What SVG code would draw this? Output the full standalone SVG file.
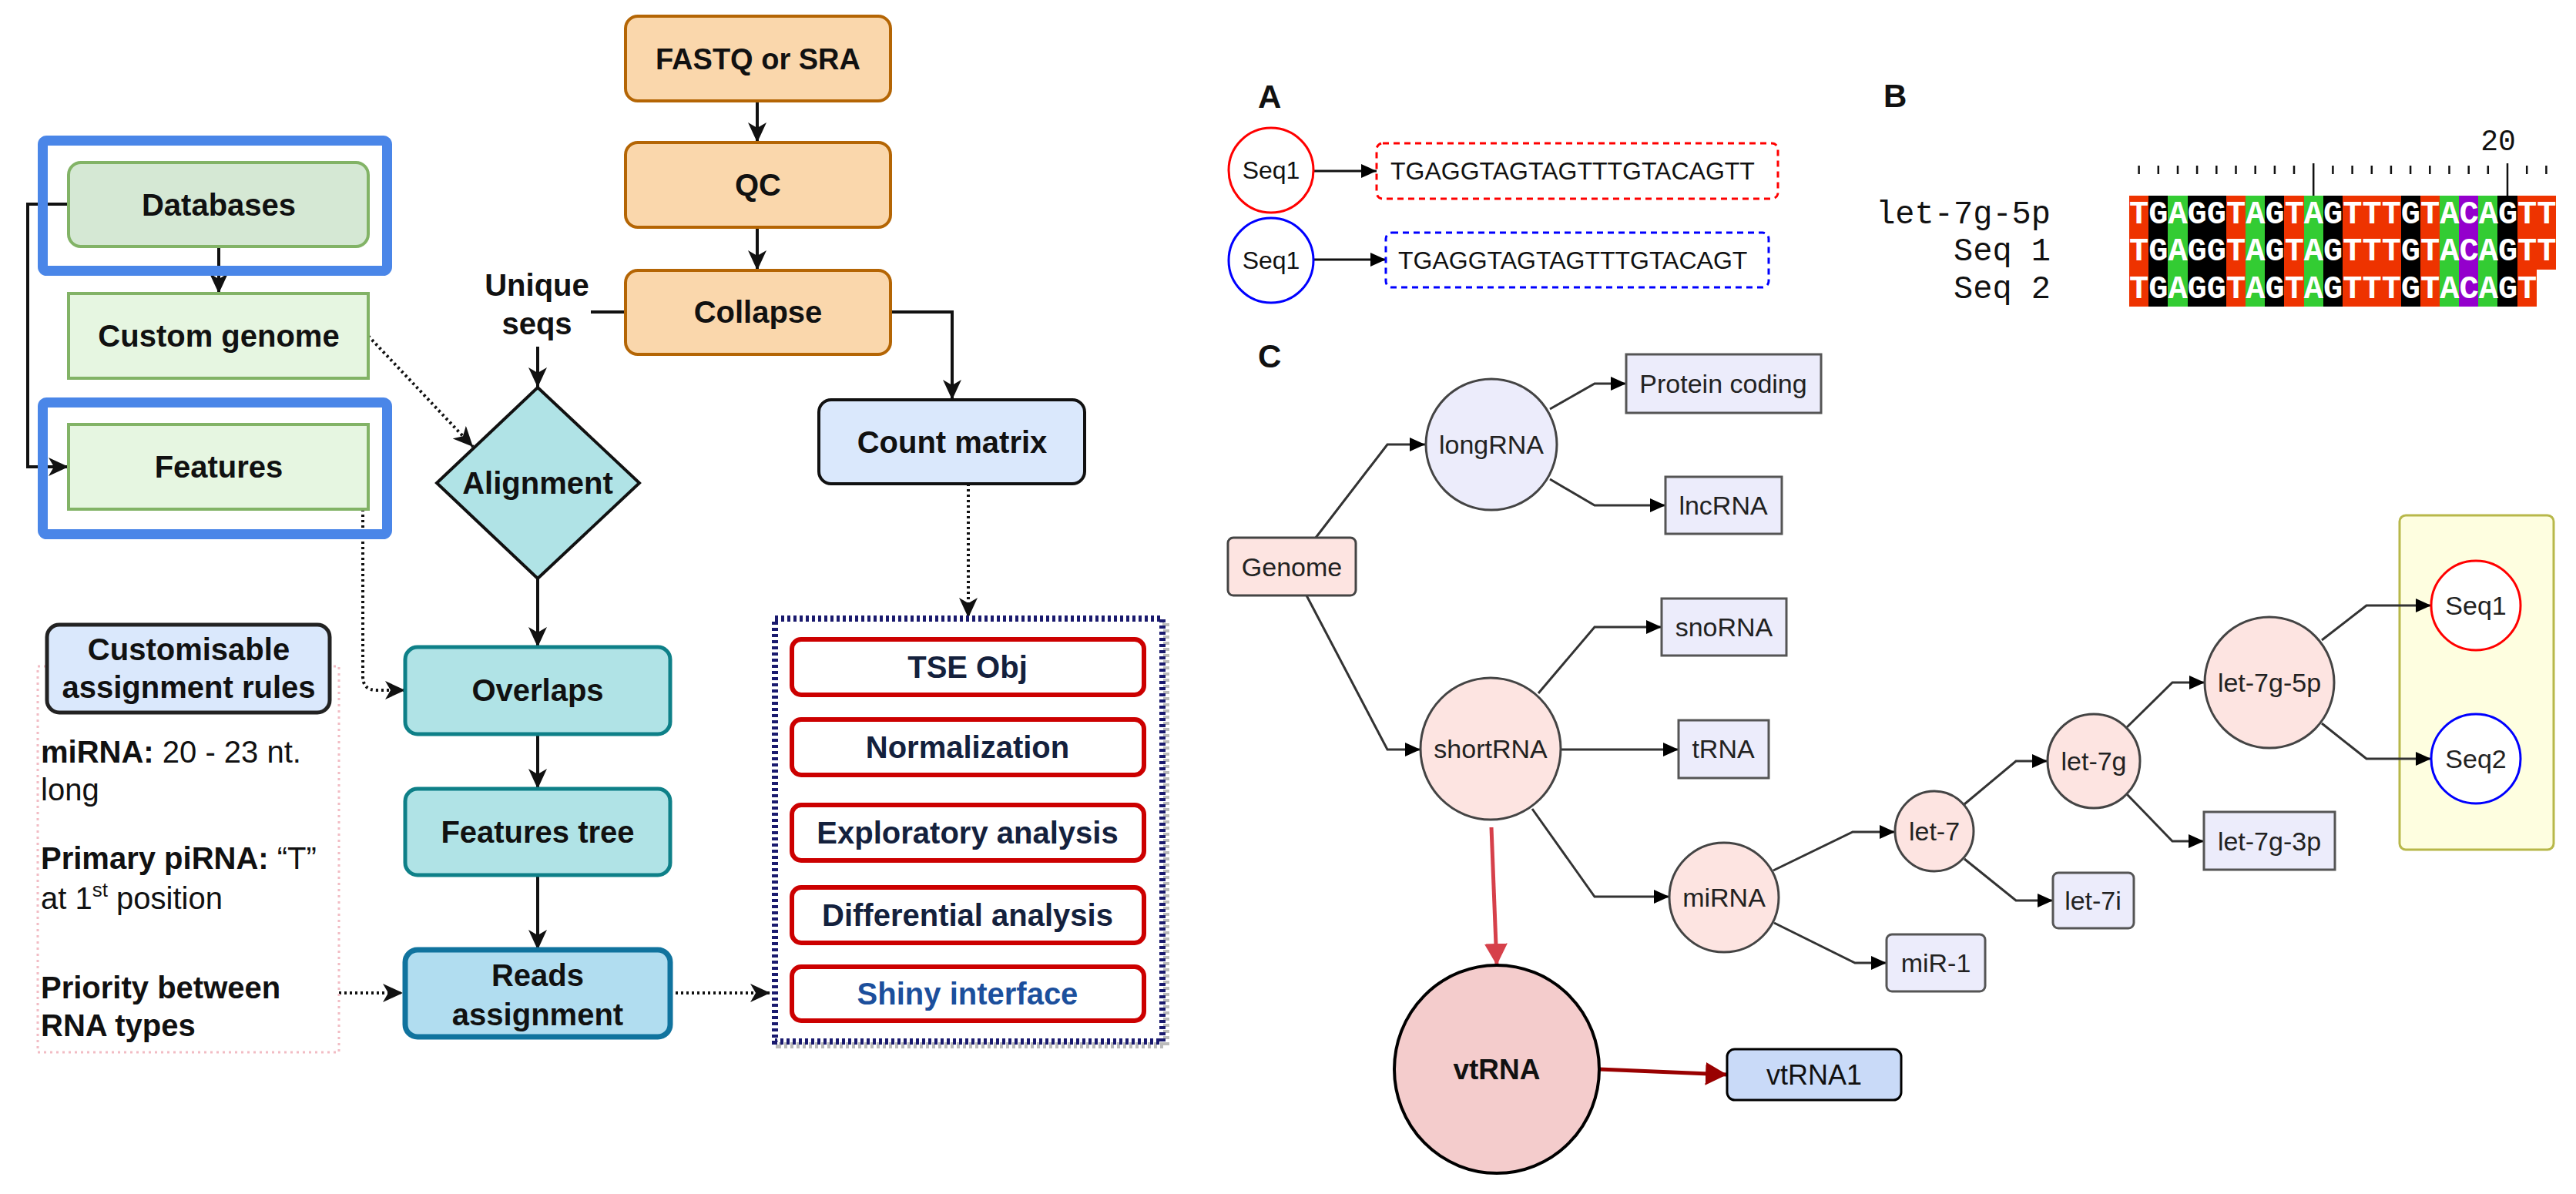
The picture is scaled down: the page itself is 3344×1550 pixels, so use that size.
<svg xmlns="http://www.w3.org/2000/svg" width="3344" height="1550" viewBox="0 0 3344 1550">
<defs>
<style>
text{font-family:"Liberation Sans",Arial,Helvetica,sans-serif;fill:#111}
.b{font-weight:bold}
.c{text-anchor:middle}
.f40{font-size:40px}
.f34{font-size:34px}
.f32{font-size:32px}
.mono{font-family:"Liberation Mono","Courier New",monospace}
.orange{fill:#fad7ac;stroke:#b46504;stroke-width:4}
.dbg{fill:#d5e8d4;stroke:#82b366;stroke-width:4}
.lg{fill:#e6f6e1;stroke:#82b366;stroke-width:4}
.teal{fill:#b0e3e6;stroke:#0e8088;stroke-width:5}
.hl{fill:none;stroke:#4a86e8;stroke-width:13}
.inner{fill:#fff;stroke:#cc0000;stroke-width:6}
.it{fill:#14213d;font-weight:bold;font-size:40px;text-anchor:middle}
.ln{fill:none;stroke:#111;stroke-width:4}
.dot{fill:none;stroke:#111;stroke-width:4;stroke-dasharray:3 4}
.tl{fill:none;stroke:#333;stroke-width:3}
.lav{fill:#ececfb;stroke:#555;stroke-width:3}
.pink{fill:#fde4e1;stroke:#444;stroke-width:3}
.tt{font-size:34px;text-anchor:middle;fill:#222}
.tick{stroke:#111;stroke-width:2.5}
.al{fill:#fff;font-size:42px;font-weight:bold}
</style>
<marker id="ah" markerUnits="userSpaceOnUse" markerWidth="26" markerHeight="24" refX="26" refY="12" orient="auto">
<path d="M0,0 L26,12 L0,24 L7,12 Z" fill="#111"/>
</marker>
<marker id="at" markerUnits="userSpaceOnUse" markerWidth="20" markerHeight="18" refX="20" refY="9" orient="auto">
<path d="M0,0 L20,9 L0,18 Z" fill="#000"/>
</marker>
<marker id="ar" markerUnits="userSpaceOnUse" markerWidth="28" markerHeight="30" refX="28" refY="15" orient="auto">
<path d="M0,0 L28,15 L0,30 Z" fill="#d6404a"/>
</marker>
<marker id="adr" markerUnits="userSpaceOnUse" markerWidth="28" markerHeight="30" refX="28" refY="15" orient="auto">
<path d="M0,0 L28,15 L0,30 Z" fill="#990000"/>
</marker>
</defs>
<rect width="3344" height="1550" fill="#fff"/>

<!-- ================= LEFT PANEL ================= -->
<g id="connectors-left">
<path class="ln" d="M983,131 V185" marker-end="url(#ah)"/>
<path class="ln" d="M983,295 V351" marker-end="url(#ah)"/>
<path class="ln" d="M812,405 H698 V503" marker-end="url(#ah)"/>
<path class="ln" d="M1156,405 H1236 V519" marker-end="url(#ah)"/>
<path class="dot" d="M1257,628 V802" marker-end="url(#ah)"/>
<path class="ln" d="M284,320 V381" marker-end="url(#ah)"/>
<path class="ln" d="M89,265 H36 V606 H89" marker-end="url(#ah)"/>
<path class="dot" d="M478,436 L614,580" marker-end="url(#ah)"/>
<path class="dot" d="M471,661 V878 Q471,896 489,896 H526" marker-end="url(#ah)"/>
<path class="ln" d="M698,751 V840" marker-end="url(#ah)"/>
<path class="ln" d="M698,953 V1024" marker-end="url(#ah)"/>
<path class="ln" d="M698,1136 V1233" marker-end="url(#ah)"/>
<path class="dot" d="M440,1289 H523" marker-end="url(#ah)"/>
<path class="dot" d="M870,1289 H1000" marker-end="url(#ah)"/>
</g>

<g id="label-unique-seqs">
<rect x="624" y="352" width="143" height="98" fill="#fff"/>
<text class="b c f40" x="697" y="384">Unique</text>
<text class="b c f40" x="697" y="434">seqs</text>
</g>

<g id="node-fastq">
<rect class="orange" x="812" y="21" width="344" height="110" rx="16"/>
<text class="b c" style="font-size:38px" x="984" y="90">FASTQ or SRA</text>
</g>
<g id="node-qc">
<rect class="orange" x="812" y="185" width="344" height="110" rx="16"/>
<text class="b c f40" x="984" y="254">QC</text>
</g>
<g id="node-collapse">
<rect class="orange" x="812" y="351" width="344" height="109" rx="16"/>
<text class="b c f40" x="984" y="419">Collapse</text>
</g>

<g id="node-databases">
<rect class="dbg" x="89" y="211" width="389" height="109" rx="16"/>
<text class="b c f40" x="284" y="280">Databases</text>
</g>
<g id="node-custom-genome">
<rect class="lg" x="89" y="381" width="389" height="110"/>
<text class="b c f40" x="284" y="450">Custom genome</text>
</g>
<g id="node-features">
<rect class="lg" x="89" y="551" width="389" height="110"/>
<text class="b c f40" x="284" y="620">Features</text>
</g>

<g id="highlights">
<rect class="hl" x="55.5" y="182.5" width="447" height="169" rx="5"/>
<rect class="hl" x="55.5" y="522.5" width="447" height="171" rx="5"/>
</g>

<g id="node-alignment">
<path d="M698,503 L830,627 L698,751 L567,627 Z" fill="#b0e3e6" stroke="#111" stroke-width="4"/>
<text class="b c f40" x="698" y="641">Alignment</text>
</g>

<g id="node-overlaps">
<rect class="teal" x="526" y="840" width="344" height="113" rx="16"/>
<text class="b c f40" x="698" y="910">Overlaps</text>
</g>
<g id="node-features-tree">
<rect class="teal" x="526" y="1024" width="344" height="112" rx="16"/>
<text class="b c f40" x="698" y="1094">Features tree</text>
</g>
<g id="node-reads-assignment">
<rect x="526" y="1233" width="344" height="113" rx="16" fill="#b1ddf0" stroke="#10739e" stroke-width="7"/>
<text class="b c f40" x="698" y="1280">Reads</text>
<text class="b c f40" x="698" y="1331">assignment</text>
</g>

<g id="node-rules">
<rect x="49" y="865" width="391" height="501" fill="none" stroke="#f2bcc4" stroke-width="3" stroke-dasharray="3 5"/>
<rect x="61" y="811" width="367" height="114" rx="16" fill="#dae8fc" stroke="#222" stroke-width="5"/>
<text class="b c f40" x="245" y="857">Customisable</text>
<text class="b c f40" x="245" y="906">assignment rules</text>
<text class="f40" x="53" y="990"><tspan class="b">miRNA:</tspan> 20 - 23 nt.</text>
<text class="f40" x="53" y="1039">long</text>
<text class="f40" x="53" y="1128"><tspan class="b">Primary piRNA:</tspan> “T”</text>
<text class="f40" x="53" y="1180">at 1<tspan dy="-16" style="font-size:26px">st</tspan><tspan dy="16"> position</tspan></text>
<text class="b f40" x="53" y="1296">Priority between</text>
<text class="b f40" x="53" y="1345">RNA types</text>
</g>

<g id="node-count-matrix">
<rect x="1063" y="519" width="345" height="109" rx="16" fill="#dae8fc" stroke="#111" stroke-width="4"/>
<text class="b c f40" x="1236" y="588">Count matrix</text>
</g>

<g id="node-analysis">
<rect x="1011" y="808" width="503" height="549" fill="none" stroke="#bbb" stroke-width="8" stroke-dasharray="4 4"/>
<rect x="1006" y="803" width="503" height="549" fill="#fff" stroke="#1a1a6e" stroke-width="8" stroke-dasharray="4 4"/>
<rect class="inner" x="1028" y="830" width="457" height="72" rx="12"/>
<text class="it" x="1256" y="880">TSE Obj</text>
<rect class="inner" x="1028" y="934" width="457" height="72" rx="12"/>
<text class="it" x="1256" y="984">Normalization</text>
<rect class="inner" x="1028" y="1045" width="457" height="72" rx="12"/>
<text class="it" x="1256" y="1095">Exploratory analysis</text>
<rect class="inner" x="1028" y="1152" width="457" height="72" rx="12"/>
<text class="it" x="1256" y="1202">Differential analysis</text>
<rect class="inner" x="1028" y="1255" width="457" height="70" rx="12"/>
<text class="it" style="fill:#1c4f9c" x="1256" y="1304">Shiny interface</text>
</g>

<!-- ================= PANEL A ================= -->
<g id="panel-labels">
<text class="b" style="font-size:42px" x="1633" y="140">A</text>
<text class="b" style="font-size:42px" x="2445" y="139">B</text>
<text class="b" style="font-size:42px" x="1633" y="477">C</text>
</g>

<g id="connectors-a">
<path class="tl" style="stroke:#111" d="M1705,222 H1787" marker-end="url(#at)"/>
<path class="tl" style="stroke:#111" d="M1705,337 H1799" marker-end="url(#at)"/>
</g>
<g id="a-seq1-red">
<circle cx="1650" cy="221" r="55" fill="#fff" stroke="#ff0000" stroke-width="3"/>
<text class="c f32" x="1650" y="232">Seq1</text>
</g>
<g id="a-seq1-red-seq">
<rect x="1787" y="186" width="521" height="72" rx="8" fill="#fff" stroke="#ff0000" stroke-width="3" stroke-dasharray="8 6"/>
<text class="f32" x="1805" y="233">TGAGGTAGTAGTTTGTACAGTT</text>
</g>
<g id="a-seq1-blue">
<circle cx="1650" cy="338" r="55" fill="#fff" stroke="#0000ff" stroke-width="3"/>
<text class="c f32" x="1650" y="349">Seq1</text>
</g>
<g id="a-seq1-blue-seq">
<rect x="1799" y="302" width="497" height="71" rx="8" fill="#fff" stroke="#0000ff" stroke-width="3" stroke-dasharray="8 6"/>
<text class="f32" x="1815" y="349">TGAGGTAGTAGTTTGTACAGT</text>
</g>

<!-- ================= PANEL B ================= -->
<g id="panel-b-alignment" shape-rendering="crispEdges">
<g id="columns">
<rect x="2764.0" y="254" width="25.7" height="144" fill="#ee3300"/>
<rect x="2789.2" y="254" width="25.7" height="144" fill="#000"/>
<rect x="2814.4" y="254" width="25.7" height="144" fill="#33cc33"/>
<rect x="2839.5" y="254" width="25.7" height="144" fill="#000"/>
<rect x="2864.7" y="254" width="25.7" height="144" fill="#000"/>
<rect x="2889.9" y="254" width="25.7" height="144" fill="#ee3300"/>
<rect x="2915.1" y="254" width="25.7" height="144" fill="#33cc33"/>
<rect x="2940.3" y="254" width="25.7" height="144" fill="#000"/>
<rect x="2965.4" y="254" width="25.7" height="144" fill="#ee3300"/>
<rect x="2990.6" y="254" width="25.7" height="144" fill="#33cc33"/>
<rect x="3015.8" y="254" width="25.7" height="144" fill="#000"/>
<rect x="3041.0" y="254" width="25.7" height="144" fill="#ee3300"/>
<rect x="3066.2" y="254" width="25.7" height="144" fill="#ee3300"/>
<rect x="3091.3" y="254" width="25.7" height="144" fill="#ee3300"/>
<rect x="3116.5" y="254" width="25.7" height="144" fill="#000"/>
<rect x="3141.7" y="254" width="25.7" height="144" fill="#ee3300"/>
<rect x="3166.9" y="254" width="25.7" height="144" fill="#33cc33"/>
<rect x="3192.1" y="254" width="25.7" height="144" fill="#9400cc"/>
<rect x="3217.2" y="254" width="25.7" height="144" fill="#33cc33"/>
<rect x="3242.4" y="254" width="25.7" height="144" fill="#000"/>
<rect x="3267.6" y="254" width="25.2" height="144" fill="#ee3300"/>
<rect x="3292.8" y="254" width="25.2" height="96" fill="#ee3300"/>
</g>
</g>
<g id="panel-b-text">
<text class="al mono" x="2764" y="290">TGAGGTAGTAGTTTGTACAGTT</text>
<text class="al mono" x="2764" y="338">TGAGGTAGTAGTTTGTACAGTT</text>
<text class="al mono" x="2764" y="387">TGAGGTAGTAGTTTGTACAGT</text>
<text class="mono" style="font-size:42px;text-anchor:end" x="2662" y="290">let-7g-5p</text>
<text class="mono" style="font-size:42px;text-anchor:end" x="2662" y="338">Seq 1</text>
<text class="mono" style="font-size:42px;text-anchor:end" x="2662" y="387">Seq 2</text>
<text class="mono" style="font-size:38px;text-anchor:middle" x="3243" y="195">20</text>
</g>
<g id="panel-b-ruler">
<path class="tick" d="M2776.6,215 v11 M2801.8,215 v11 M2827,215 v11 M2852.1,215 v11 M2877.3,215 v11 M2902.5,215 v11 M2927.7,215 v11 M2952.9,215 v11 M2978,215 v11 M3003.2,212 V254 M3028.4,215 v11 M3053.6,215 v11 M3078.8,215 v11 M3103.9,215 v11 M3129.1,215 v11 M3154.3,215 v11 M3179.5,215 v11 M3204.7,215 v11 M3229.8,215 v11 M3255,212 V254 M3280.2,215 v11 M3305.4,215 v11"/>
</g>

<!-- ================= PANEL C ================= -->
<g id="node-seq-container">
<rect x="3115" y="669" width="200" height="434" rx="8" fill="#fefee0" stroke="#b8b84a" stroke-width="3"/>
</g>

<g id="connectors-tree">
<path class="tl" d="M1708,698 L1801,577 H1850" marker-end="url(#at)"/>
<path class="tl" d="M1696,773 L1801,973 H1844" marker-end="url(#at)"/>
<path class="tl" d="M2012,531 L2070,498 H2111" marker-end="url(#at)"/>
<path class="tl" d="M2012,622 L2070,656 H2162" marker-end="url(#at)"/>
<path class="tl" d="M1997,900 L2070,814 H2157" marker-end="url(#at)"/>
<path class="tl" d="M2026,973 H2179" marker-end="url(#at)"/>
<path class="tl" d="M1989,1050 L2070,1164 H2167" marker-end="url(#at)"/>
<path class="tl" d="M2302,1130 L2405,1080 H2460" marker-end="url(#at)"/>
<path class="tl" d="M2303,1198 L2408,1250 H2449" marker-end="url(#at)"/>
<path class="tl" d="M2550,1044 L2617,988 H2658" marker-end="url(#at)"/>
<path class="tl" d="M2550,1115 L2617,1169 H2665" marker-end="url(#at)"/>
<path class="tl" d="M2761,944 L2820,886 H2862" marker-end="url(#at)"/>
<path class="tl" d="M2761,1031 L2820,1092 H2861" marker-end="url(#at)"/>
<path class="tl" d="M3014,831 L3072,786 H3156" marker-end="url(#at)"/>
<path class="tl" d="M3014,939 L3072,985 H3156" marker-end="url(#at)"/>
<path fill="none" stroke="#d6404a" stroke-width="5" d="M1936,1074 L1943,1253" marker-end="url(#ar)"/>
<path fill="none" stroke="#990000" stroke-width="5" d="M2076,1388 L2242,1395" marker-end="url(#adr)"/>
</g>

<g id="node-genome">
<rect class="pink" x="1594" y="698" width="166" height="75" rx="7"/>
<text class="tt" x="1677" y="748">Genome</text>
</g>
<g id="node-longRNA">
<circle cx="1936" cy="577" r="85" fill="#ececfb" stroke="#444" stroke-width="3"/>
<text class="tt" x="1936" y="589">longRNA</text>
</g>
<g id="node-protein-coding">
<rect class="lav" x="2111" y="460" width="253" height="76"/>
<text class="tt" x="2237" y="510">Protein coding</text>
</g>
<g id="node-lncRNA">
<rect class="lav" x="2162" y="619" width="151" height="74"/>
<text class="tt" x="2237" y="668">lncRNA</text>
</g>
<g id="node-snoRNA">
<rect class="lav" x="2157" y="777" width="162" height="74"/>
<text class="tt" x="2238" y="826">snoRNA</text>
</g>
<g id="node-shortRNA">
<ellipse class="pink" cx="1935" cy="972" rx="91" ry="92"/>
<text class="tt" x="1935" y="984">shortRNA</text>
</g>
<g id="node-tRNA">
<rect class="lav" x="2179" y="935" width="117" height="75"/>
<text class="tt" x="2237" y="984">tRNA</text>
</g>
<g id="node-miRNA">
<circle class="pink" cx="2238" cy="1165" r="71"/>
<text class="tt" x="2238" y="1177">miRNA</text>
</g>
<g id="node-miR-1">
<rect class="lav" x="2449" y="1213" width="128" height="74" rx="7"/>
<text class="tt" x="2513" y="1262">miR-1</text>
</g>
<g id="node-let-7">
<ellipse class="pink" cx="2511" cy="1079" rx="51" ry="52"/>
<text class="tt" x="2511" y="1091">let-7</text>
</g>
<g id="node-let-7i">
<rect class="lav" x="2665" y="1133" width="105" height="72" rx="7"/>
<text class="tt" x="2717" y="1181">let-7i</text>
</g>
<g id="node-let-7g">
<ellipse class="pink" cx="2718" cy="988" rx="60" ry="61"/>
<text class="tt" x="2718" y="1000">let-7g</text>
</g>
<g id="node-let-7g-3p">
<rect class="lav" x="2861" y="1054" width="170" height="75"/>
<text class="tt" x="2946" y="1104">let-7g-3p</text>
</g>
<g id="node-let-7g-5p">
<ellipse class="pink" cx="2946" cy="886" rx="84" ry="85"/>
<text class="tt" x="2946" y="898">let-7g-5p</text>
</g>
<g id="node-seq1">
<circle cx="3214" cy="786" r="58" fill="#fff" stroke="#ff0000" stroke-width="3"/>
<text class="tt" x="3214" y="798">Seq1</text>
</g>
<g id="node-seq2">
<circle cx="3214" cy="985" r="58" fill="#fff" stroke="#0000ff" stroke-width="3"/>
<text class="tt" x="3214" y="997">Seq2</text>
</g>
<g id="node-vtRNA">
<ellipse cx="1943" cy="1388" rx="133" ry="135" fill="#f4cccc" stroke="#000" stroke-width="4"/>
<text class="b c" style="font-size:37px" x="1943" y="1401">vtRNA</text>
</g>
<g id="node-vtRNA1">
<rect x="2242" y="1362" width="226" height="66" rx="10" fill="#c9daf8" stroke="#000" stroke-width="3"/>
<text class="c" style="font-size:36px" x="2355" y="1408">vtRNA1</text>
</g>
</svg>
